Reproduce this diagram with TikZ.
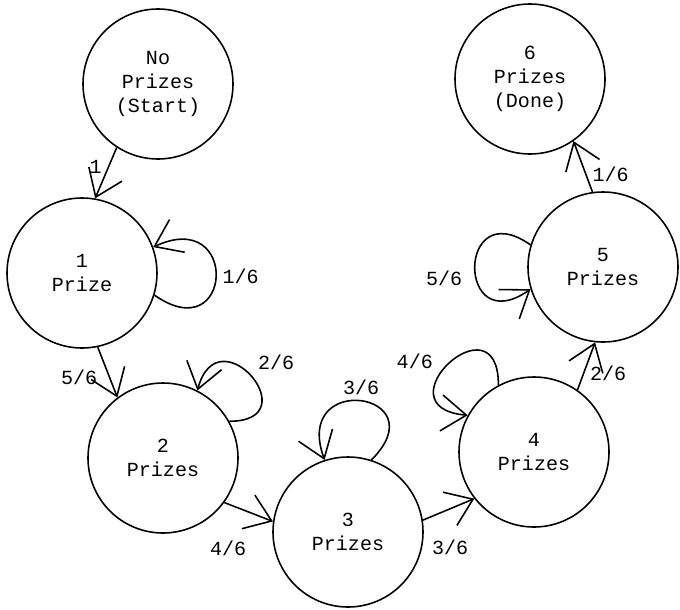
\documentclass[tikz,border=0pt]{standalone}
\usepackage{fontspec}
\setmonofont{Liberation Mono}
\usetikzlibrary{arrows.meta}
\tikzset{
	prize/.style={
			circle, draw, minimum size=3cm, inner sep=0pt, align=center
		},
	lbl/.style={inner sep=0.333em}
}

\begin{document}
\begin{tikzpicture}[>={Straight Barb[length=0.5cm,width=0.72cm]}, line width=0.9pt,
		font=\ttfamily\fontsize{11.4}{13.7}\selectfont]
		\useasboundingbox (0,0) rectangle (13.6,-12.18);

		\node[prize] (p0) at (3.16,-1.68) {No\\Prizes\\(Start)};
		\node[prize] (p1) at (1.64,-5.46) {1\\Prize};
		\node[prize] (p2) at (3.26,-9.16) {2\\Prizes};
		\node[prize] (p3) at (6.96,-10.64) {3\\Prizes};
		\node[prize] (p4) at (10.68,-9.04) {4\\Prizes};
		\node[prize] (p5) at (12.06,-5.34) {5\\Prizes};
		\node[prize] (p6) at (10.60,-1.58) {6\\Prizes\\(Done)};

		\draw[->] (p0.237) to node[lbl, left, pos=0.39] (l01) {1} (p1.80);
		\draw[->] (p1.282) to node[lbl, left=0.11cm, pos=0.59] (l12) {5/6} (p2.127);
		\draw[->] (p2.-36) to node[lbl, below=0.6cm, pos=0.08] (l23) {4/6} (p3.172);
		\draw[->] (p3.9) to node[lbl, below=0.5cm, pos=0.53] (l34) {3/6} (p4.218);
		\draw[->] (p4.55) to node[lbl, right, pos=0.34] (l45) {2/6} (p5.264);
		\draw[->] (p5.98) to node[lbl, right, pos=0.34] (l56) {1/6} (p6.-55);

		\draw[->] (p1.-17) to[out=-35, in=25, looseness=5.1] node[lbl, right] (l11) {1/6} (p1.20);
		\draw[->] (p2.29) to[out=0, in=75, looseness=4.66] node[lbl, above right] (l22) {2/6} (p2.63);
		\draw[->] (p3.72) to[out=45, in=110, looseness=5.23] node[lbl, above] (l33) {3/6} (p3.108);
		\draw[->] (p4.118) to[out=90, in=175, looseness=5.4] node[lbl, above left, pos=0.6] (l44) {4/6} (p4.151);
		\draw[->] (p5.163) to[out=145, in=215, looseness=5.24] node[lbl, left=0.15cm, pos=0.58] (l55) {5/6} (p5.197);
	\end{tikzpicture}
\end{document}
